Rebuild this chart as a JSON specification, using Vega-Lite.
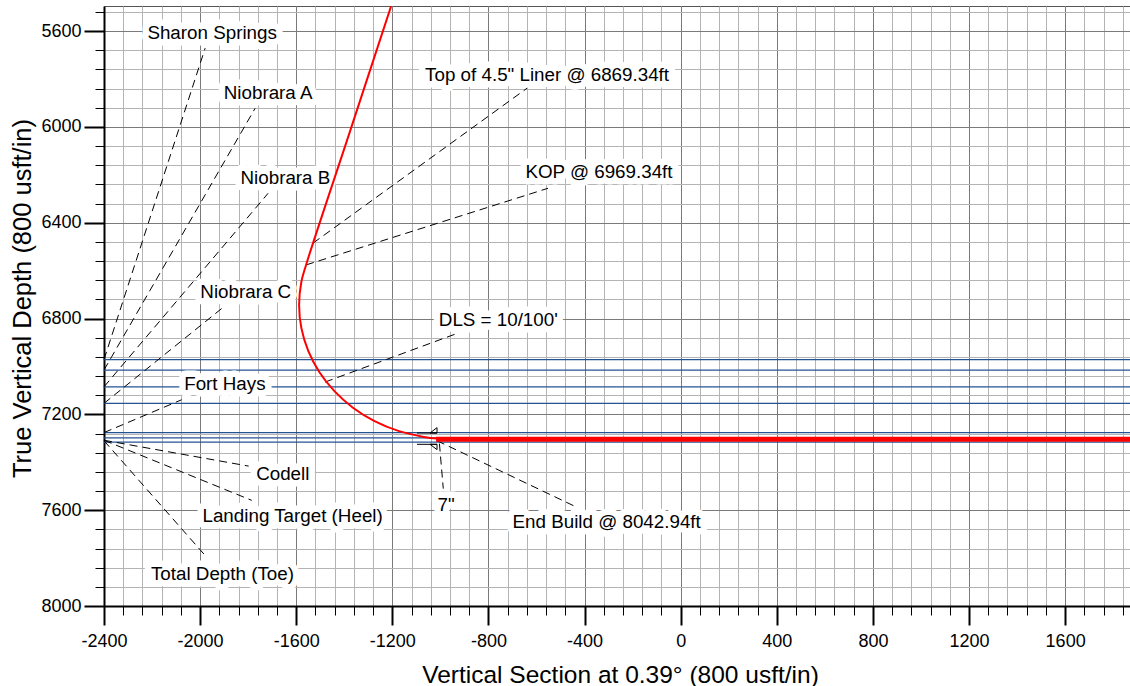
{
  "$schema": "https://vega.github.io/schema/vega-lite/v6.json",
  "width": 1026,
  "height": 600,
  "autosize": {"type": "none"},
  "padding": {"left": 104, "top": 6, "right": 0, "bottom": 80},
  "background": "white",
  "config": {"font": "Liberation Sans", "view": {"stroke": "#555555", "strokeWidth": 1}},
  "datasets": {
    "well": [
      {"i": 1, "x": -1200, "y": 5480},
      {"i": 2, "x": -1380, "y": 6030},
      {"i": 3, "x": -1559, "y": 6576},
      {"i": 4, "x": -1578.5, "y": 6646},
      {"i": 5, "x": -1588, "y": 6743},
      {"i": 6, "x": -1578.5, "y": 6840},
      {"i": 7, "x": -1550, "y": 6935},
      {"i": 8, "x": -1504, "y": 7023},
      {"i": 9, "x": -1441, "y": 7103},
      {"i": 10, "x": -1364, "y": 7172},
      {"i": 11, "x": -1274, "y": 7228},
      {"i": 12, "x": -1175, "y": 7269},
      {"i": 13, "x": -1069, "y": 7294},
      {"i": 14, "x": -1014, "y": 7301},
      {"i": 15, "x": -960, "y": 7303}
    ],
    "lateral": [
      {"i": 1, "x": -1018, "y": 7303.5},
      {"i": 2, "x": 1950, "y": 7303.5}
    ],
    "tops": [
      {"name": "Sharon Springs", "tvd": 6971},
      {"name": "Niobrara A", "tvd": 7015},
      {"name": "Niobrara B", "tvd": 7085},
      {"name": "Niobrara C", "tvd": 7154},
      {"name": "Fort Hays", "tvd": 7276},
      {"name": "Codell", "tvd": 7298},
      {"name": "Landing Target (Heel)", "tvd": 7316}
    ],
    "leaders": [
      {"x": -2400, "y": 6971, "x2": -1979, "y2": 5671},
      {"x": -2400, "y": 7015, "x2": -1771, "y2": 5922},
      {"x": -2400, "y": 7085, "x2": -1717, "y2": 6277},
      {"x": -2400, "y": 7154, "x2": -1904, "y2": 6753},
      {"x": -2400, "y": 7276, "x2": -2077, "y2": 7139},
      {"x": -2400, "y": 7308, "x2": -1798, "y2": 7416},
      {"x": -2400, "y": 7308, "x2": -1785, "y2": 7559},
      {"x": -2400, "y": 7310, "x2": -1979, "y2": 7789},
      {"x": -1530, "y": 6485, "x2": -639, "y2": 5838},
      {"x": -1559, "y": 6576, "x2": -552, "y2": 6256},
      {"x": -1480, "y": 7065, "x2": -925, "y2": 6860},
      {"x": -1004, "y": 7322, "x2": -988, "y2": 7510},
      {"x": -1014, "y": 7310, "x2": -440, "y2": 7584}
    ],
    "labels": [
      {"text": "Sharon Springs", "x": -1950, "y": 5608},
      {"text": "Niobrara A", "x": -1717, "y": 5859},
      {"text": "Niobrara B", "x": -1645, "y": 6214},
      {"text": "Niobrara C", "x": -1810, "y": 6689},
      {"text": "Fort Hays", "x": -1897, "y": 7072},
      {"text": "Codell", "x": -1656, "y": 7450},
      {"text": "Landing Target (Heel)", "x": -1615, "y": 7626},
      {"text": "Total Depth (Toe)", "x": -1907, "y": 7865},
      {"text": "Top of 4.5\" Liner @ 6869.34ft", "x": -556, "y": 5781},
      {"text": "KOP @ 6969.34ft", "x": -340, "y": 6188},
      {"text": "DLS = 10/100'", "x": -759, "y": 6807},
      {"text": "7\"", "x": -976, "y": 7578},
      {"text": "End Build @ 8042.94ft", "x": -308, "y": 7650}
    ],
    "casing": [
      {"name": "7\" casing", "x": -1014, "y": 7302}
    ]
  },
  "layer": [
    {
      "data": {"name": "labels"},
      "mark": {"type": "point", "opacity": 0},
      "encoding": {
        "x": {"field": "x", "type": "quantitative", "scale": {"domain": [-2400, 1870], "nice": false, "zero": false},
          "axis": {"orient": "bottom", "values": [-2400,-2320,-2240,-2160,-2080,-2000,-1920,-1840,-1760,-1680,-1600,-1520,-1440,-1360,-1280,-1200,-1120,-1040,-960,-880,-800,-720,-640,-560,-480,-400,-320,-240,-160,-80,0,80,160,240,320,400,480,560,640,720,800,880,960,1040,1120,1200,1280,1360,1440,1520,1600,1680,1760,1840],
            "labels": false, "tickSize": 9, "tickWidth": 1, "tickColor": "black", "domain": false, "grid": true, "gridColor": "#b4b4b4", "gridWidth": 1, "title": null, "zindex": 0}},
        "y": {"field": "y", "type": "quantitative", "scale": {"domain": [5495, 8000], "reverse": true, "nice": false, "zero": false},
          "axis": {"orient": "left", "values": [5520,5600,5680,5760,5840,5920,6000,6080,6160,6240,6320,6400,6480,6560,6640,6720,6800,6880,6960,7040,7120,7200,7280,7360,7440,7520,7600,7680,7760,7840,7920,8000],
            "labels": false, "tickSize": 9, "tickWidth": 1, "tickColor": "black", "domain": false, "grid": true, "gridColor": "#b4b4b4", "gridWidth": 1, "title": null, "zindex": 0}}
      }
    },
    {
      "data": {"name": "labels"},
      "mark": {"type": "point", "opacity": 0},
      "encoding": {
        "x": {"field": "x", "type": "quantitative", "scale": {"domain": [-2400, 1870], "nice": false, "zero": false},
          "axis": {"orient": "bottom", "values": [-2400,-2000,-1600,-1200,-800,-400,0,400,800,1200,1600],
            "labelExpr": "toString(datum.value)", "labelFontSize": 18, "labelColor": "black", "labelPadding": 7, "labelFlush": false, "labelOverlap": false, "labelBound": false,
            "tickSize": 19, "tickWidth": 2, "tickColor": "black", "domain": true, "domainColor": "black", "domainWidth": 2,
            "grid": true, "gridColor": "#7a7a7a", "gridWidth": 1,
            "title": "Vertical Section at 0.39° (800 usft/in)", "titleFontSize": 24.5, "titleFontWeight": "normal", "titleColor": "black",
            "titleX": 516, "titleY": 76, "titleBaseline": "alphabetic", "titleAlign": "center", "zindex": 0}},
        "y": {"field": "y", "type": "quantitative", "scale": {"domain": [5495, 8000], "reverse": true, "nice": false, "zero": false},
          "axis": {"orient": "left", "values": [5600,6000,6400,6800,7200,7600,8000],
            "labelExpr": "toString(datum.value)", "labelFontSize": 18, "labelColor": "black", "labelPadding": 3, "labelFlush": false, "labelOverlap": false, "labelBound": false,
            "tickSize": 20, "tickWidth": 2, "tickColor": "black", "domain": true, "domainColor": "black", "domainWidth": 2,
            "grid": true, "gridColor": "#7a7a7a", "gridWidth": 1,
            "title": "True Vertical Depth (800 usft/in)", "titleFontSize": 25.5, "titleFontWeight": "normal", "titleColor": "black",
            "titleAngle": 270, "titleX": -74, "titleY": 292, "titleBaseline": "alphabetic", "titleAlign": "center", "zindex": 0}}
      }
    },
    {
      "data": {"name": "tops"},
      "mark": {"type": "rule", "color": "#245394", "strokeWidth": 1.3},
      "encoding": {
        "y": {"field": "tvd", "type": "quantitative", "scale": {"domain": [5495, 8000], "reverse": true, "nice": false, "zero": false}, "axis": null}
      }
    },
    {
      "data": {"name": "leaders"},
      "mark": {"type": "rule", "color": "black", "strokeWidth": 1, "strokeDash": [8, 5]},
      "encoding": {
        "x": {"field": "x", "type": "quantitative", "scale": {"domain": [-2400, 1870], "nice": false, "zero": false}, "axis": null},
        "y": {"field": "y", "type": "quantitative", "scale": {"domain": [5495, 8000], "reverse": true, "nice": false, "zero": false}, "axis": null},
        "x2": {"field": "x2"},
        "y2": {"field": "y2"}
      }
    },
    {
      "data": {"name": "labels"},
      "mark": {"type": "text", "fontSize": 18.8, "fill": "white", "stroke": "white", "strokeWidth": 13, "strokeJoin": "round", "align": "center", "baseline": "middle"},
      "encoding": {
        "x": {"field": "x", "type": "quantitative", "scale": {"domain": [-2400, 1870], "nice": false, "zero": false}, "axis": null},
        "y": {"field": "y", "type": "quantitative", "scale": {"domain": [5495, 8000], "reverse": true, "nice": false, "zero": false}, "axis": null},
        "text": {"field": "text"}
      }
    },
    {
      "data": {"name": "labels"},
      "mark": {"type": "text", "fontSize": 18.8, "fill": "black", "align": "center", "baseline": "middle"},
      "encoding": {
        "x": {"field": "x", "type": "quantitative", "scale": {"domain": [-2400, 1870], "nice": false, "zero": false}, "axis": null},
        "y": {"field": "y", "type": "quantitative", "scale": {"domain": [5495, 8000], "reverse": true, "nice": false, "zero": false}, "axis": null},
        "text": {"field": "text"}
      }
    },
    {
      "data": {"name": "well"},
      "mark": {"type": "line", "color": "#ff0000", "strokeWidth": 2, "interpolate": "catmull-rom", "clip": true},
      "encoding": {
        "x": {"field": "x", "type": "quantitative", "scale": {"domain": [-2400, 1870], "nice": false, "zero": false}, "axis": null},
        "y": {"field": "y", "type": "quantitative", "scale": {"domain": [5495, 8000], "reverse": true, "nice": false, "zero": false}, "axis": null},
        "order": {"field": "i", "type": "quantitative"}
      }
    },
    {
      "data": {"name": "lateral"},
      "mark": {"type": "line", "color": "#ff0000", "strokeWidth": 5, "clip": true},
      "encoding": {
        "x": {"field": "x", "type": "quantitative", "scale": {"domain": [-2400, 1870], "nice": false, "zero": false}, "axis": null},
        "y": {"field": "y", "type": "quantitative", "scale": {"domain": [5495, 8000], "reverse": true, "nice": false, "zero": false}, "axis": null},
        "order": {"field": "i", "type": "quantitative"}
      }
    },
    {
      "data": {"name": "casing"},
      "mark": {"type": "point", "shape": "M-2,-0.58L0,-0.58M-0.7,-0.58L0,-1.12L0,-0.58ZM-2,0.55L0,0.55M-0.7,0.55L0,1.08L0,0.55Z", "size": 400, "filled": false, "stroke": "black", "strokeWidth": 1, "opacity": 1},
      "encoding": {
        "x": {"field": "x", "type": "quantitative", "scale": {"domain": [-2400, 1870], "nice": false, "zero": false}, "axis": null},
        "y": {"field": "y", "type": "quantitative", "scale": {"domain": [5495, 8000], "reverse": true, "nice": false, "zero": false}, "axis": null}
      }
    }
  ],
  "resolve": {"axis": {"x": "independent", "y": "independent"}}
}
